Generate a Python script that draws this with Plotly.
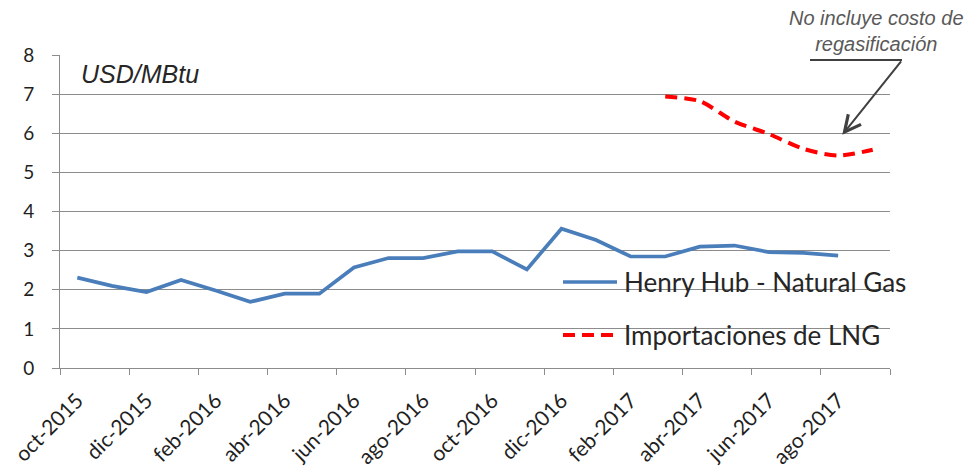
import plotly.graph_objects as go

# Meses (eje de categorías)
meses = ['oct-2015', 'nov-2015', 'dic-2015', 'ene-2016', 'feb-2016', 'mar-2016',
         'abr-2016', 'may-2016', 'jun-2016', 'jul-2016', 'ago-2016', 'sep-2016',
         'oct-2016', 'nov-2016', 'dic-2016', 'ene-2017', 'feb-2017', 'mar-2017',
         'abr-2017', 'may-2017', 'jun-2017', 'jul-2017', 'ago-2017', 'sep-2017']

# Henry Hub (USD/MBtu), oct-2015 .. ago-2017
henry_hub = [2.31, 2.10, 1.94, 2.25, 1.98, 1.69, 1.90, 1.90, 2.57, 2.81, 2.81, 2.98,
             2.98, 2.52, 3.56, 3.27, 2.85, 2.85, 3.10, 3.13, 2.96, 2.94, 2.87]

# Importaciones de LNG, mar-2017 .. sep-2017
lng_meses = ['mar-2017', 'abr-2017', 'may-2017', 'jun-2017', 'jul-2017', 'ago-2017', 'sep-2017']
lng = [6.94, 6.82, 6.30, 5.98, 5.60, 5.43, 5.58]

etiquetas = meses[::2]
# marcas del eje x entre categorías (cada 2 meses, incluido el borde final)
marcas = [i - 0.5 for i in range(0, len(meses) + 1, 2)]

_BLUE = '#4A7EBB'
_RED = '#FF0000'
_GRID = '#8C8C8C'
_TXT = '#1F1F1F'

# la página añade 8 px de margen al body -> se descuentan aquí
OFF = 8
W, H = 973 - OFF, 467 - OFF
L, R, T, B = 60 - OFF, 83, 55 - OFF, 99
PW, PH = W - L - R, H - T - B


def px(x):   # pixel de pantalla → paper x
    return (x - OFF - L) / PW


def py(y):   # pixel de pantalla → paper y
    return (H - B - (y - OFF)) / PH


fig = go.Figure()
fig.add_trace(go.Scatter(
    x=meses[:len(henry_hub)], y=henry_hub, mode='lines',
    line=dict(color=_BLUE, width=3.7),
    name='Henry Hub - Natural Gas', showlegend=False,
))
fig.add_trace(go.Scatter(
    x=lng_meses, y=lng, mode='lines',
    line=dict(color=_RED, width=4, dash='12px,7px', shape='spline', smoothing=0.8),
    name='Importaciones de LNG', showlegend=False,
))
# eje auxiliar solo para las marcas entre categorías
fig.add_trace(go.Scatter(x=[marcas[0], marcas[-1]], y=[None, None], xaxis='x2',
                         mode='lines', showlegend=False, hoverinfo='skip'))

shapes = []
annots = []

# ── leyenda dibujada a mano (muestra de línea más larga, como en Excel) ──
for yy, clr, dash, nm in [(282, _BLUE, 'solid', 'Henry Hub - Natural Gas'),
                          (335, _RED, '12px,7px', 'Importaciones de LNG')]:
    shapes.append(dict(type='line', xref='paper', yref='paper',
                       x0=px(563), x1=px(617), y0=py(yy), y1=py(yy),
                       line=dict(color=clr, width=4 if clr == _RED else 3.7, dash=dash)))
    annots.append(dict(xref='paper', yref='paper', x=px(622), y=py(yy),
                       xanchor='left', yanchor='middle', showarrow=False,
                       text=nm, font=dict(family='Lato', size=26, color='#262626')))

# unidades
annots.append(dict(xref='paper', yref='paper', x=px(79), y=py(74),
                   xanchor='left', yanchor='middle', showarrow=False,
                   text='<i>USD/MBtu</i>',
                   font=dict(family='Liberation Sans', size=25, color='#262626')))

# nota con flecha
annots.append(dict(xref='paper', yref='paper', x=px(876), y=py(31),
                   xanchor='center', yanchor='middle', showarrow=False, align='center',
                   text='<i>No incluye costo de<br>regasificación</i>',
                   font=dict(family='Liberation Sans', size=20, color='#595959')))
shapes.append(dict(type='line', xref='paper', yref='paper',
                   x0=px(810), x1=px(902), y0=py(60), y1=py(60),
                   line=dict(color='#404040', width=2)))
annots.append(dict(xref='x', yref='y', x=22.12, y=5.96, text='',
                   showarrow=True, axref='pixel', ayref='pixel', ax=60, ay=-75,
                   arrowhead=5, arrowsize=1.6, arrowwidth=2, arrowcolor='#404040',
                   standoff=0))

fig.update_layout(
    width=W, height=H,
    margin=dict(l=L, r=R, t=T, b=B),
    paper_bgcolor='white', plot_bgcolor='white',
    font=dict(family='Lato', size=18, color=_TXT),
    shapes=shapes, annotations=annots,
    xaxis=dict(
        type='category', categoryorder='array', categoryarray=meses,
        tickmode='array', tickvals=etiquetas, ticktext=etiquetas,
        tickangle=-45, ticks='', ticklabelstandoff=11,
        showline=True, linecolor=_GRID, linewidth=1, showgrid=False,
        tickfont=dict(family='Lato', size=21, color=_TXT),
        range=[-0.5, 23.5], automargin=False,
    ),
    xaxis2=dict(
        type='linear', overlaying='x', anchor='y', side='bottom',
        range=[-0.5, 23.5], tickmode='array', tickvals=marcas,
        showticklabels=False, ticks='outside', ticklen=6,
        tickcolor=_GRID, tickwidth=1,
        showgrid=False, zeroline=False, showline=False,
    ),
    yaxis=dict(
        range=[0, 8], dtick=1, tick0=0,
        showgrid=True, gridcolor=_GRID, gridwidth=1,
        showline=True, linecolor=_GRID, linewidth=1, zeroline=False,
        ticks='outside', ticklen=7, tickcolor=_GRID, tickwidth=1,
        ticklabelstandoff=14, automargin=False,
        tickfont=dict(family='Lato', size=19, color=_TXT),
    ),
)

fig.write_html('out.html')
